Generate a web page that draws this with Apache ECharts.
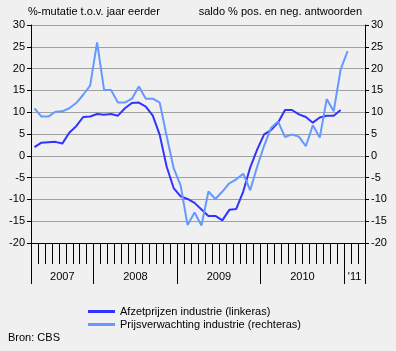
<!DOCTYPE html>
<html>
<head>
<meta charset="utf-8">
<script src="https://cdn.jsdelivr.net/npm/echarts@6/dist/echarts.min.js"></script>
<style>
  html, body { margin: 0; padding: 0; background: #f0f0f0; }
  #chart { width: 396px; height: 351px; }
</style>
</head>
<body>
<div id="chart"></div>
<script>
// maanden apr 2007 - mrt 2011
const months = [
  '2007-04', '2007-05', '2007-06', '2007-07', '2007-08', '2007-09', '2007-10', '2007-11', '2007-12',
  '2008-01', '2008-02', '2008-03', '2008-04', '2008-05', '2008-06', '2008-07', '2008-08', '2008-09', '2008-10', '2008-11', '2008-12',
  '2009-01', '2009-02', '2009-03', '2009-04', '2009-05', '2009-06', '2009-07', '2009-08', '2009-09', '2009-10', '2009-11', '2009-12',
  '2010-01', '2010-02', '2010-03', '2010-04', '2010-05', '2010-06', '2010-07', '2010-08', '2010-09', '2010-10', '2010-11', '2010-12',
  '2011-01', '2011-02', '2011-03'
]

// Afzetprijzen industrie (linkeras)
const afzetprijzen = [
  2.0, 3.0, 3.1, 3.2, 2.8, 5.3, 6.8, 8.9, 9.0,
  9.6, 9.4, 9.6, 9.2, 10.9, 12.1, 12.2, 11.3, 9.2, 4.8, -2.5, -7.4,
  -9.3, -9.9, -10.8, -12.3, -13.8, -13.8, -14.8, -12.4, -12.2, -8.2, -2.7, 1.4,
  4.9, 5.9, 7.6, 10.5, 10.5, 9.5, 8.9, 7.6, 8.8, 9.2, 9.2, 10.5
]

// Prijsverwachting industrie (rechteras)
const prijsverwachting = [
  10.9, 9.0, 9.0, 10.1, 10.2, 10.9, 12.1, 14.0, 16.1,
  26.0, 15.1, 15.1, 12.2, 12.2, 13.1, 15.9, 13.1, 13.1, 12.2, 4.5, -2.8,
  -6.8, -15.9, -13.0, -16.0, -8.2, -9.9, -8.2, -6.3, -5.4, -4.1, -7.9, -2.5,
  2.3, 6.4, 7.9, 4.3, 4.9, 4.4, 2.2, 7.0, 4.2, 13.0, 10.2, 19.8, 24.0
]

// jaarindeling van de x-as (in maanden vanaf apr 2007)
const yearBounds = [0, 9, 21, 33, 45, 48]
const yearLabelPos = [4.5, 15, 27, 39, 46.5]
const yearLabels = ['2007', '2008', '2009', '2010', "'11"]

const font = 'Liberation Sans, Arial, sans-serif'
const chart = echarts.init(document.getElementById('chart'))

const yAxisBase = {
  type: 'value',
  min: -20,
  max: 30,
  interval: 5,
  axisLine: { show: true, onZero: false, lineStyle: { color: '#000', width: 1 } },
  axisTick: { show: true, length: 4, lineStyle: { color: '#000' } },
  axisLabel: { color: '#000', fontSize: 11, fontFamily: font, margin: 6 }
}

chart.setOption({
  animation: false,
  backgroundColor: '#f0f0f0',
  title: [
    {
      text: '%-mutatie t.o.v. jaar eerder',
      left: 28, top: 6, padding: 0,
      textStyle: { color: '#000', fontSize: 11, fontWeight: 'normal', fontFamily: font }
    },
    {
      text: 'saldo % pos. en neg. antwoorden',
      right: 34, top: 6, padding: 0,
      textStyle: { color: '#000', fontSize: 11, fontWeight: 'normal', fontFamily: font }
    },
    {
      text: 'Bron: CBS',
      left: 8, top: 332, padding: 0,
      textStyle: { color: '#000', fontSize: 11, fontWeight: 'normal', fontFamily: font }
    }
  ],
  legend: {
    orient: 'vertical',
    left: 88,
    top: 306,
    padding: 0,
    itemGap: 2,
    itemWidth: 27,
    itemHeight: 3,
    icon: 'rect',
    textStyle: { color: '#000', fontSize: 11, fontFamily: font },
    data: ['Afzetprijzen industrie (linkeras)', 'Prijsverwachting industrie (rechteras)']
  },
  grid: { left: 31, right: 31, top: 25, bottom: 108, containLabel: false },
  xAxis: [
    {
      type: 'category',
      data: months,
      boundaryGap: true,
      axisLine: { show: true, onZero: false, lineStyle: { color: '#000', width: 1 } },
      axisTick: { show: true, interval: 0, length: 21, lineStyle: { color: '#000' } },
      axisLabel: { show: false },
      splitLine: { show: false }
    },
    {
      type: 'value',
      min: 0,
      max: 48,
      position: 'bottom',
      axisLine: { show: false, onZero: false },
      axisTick: { show: true, length: 41, customValues: yearBounds, lineStyle: { color: '#000' } },
      axisLabel: {
        customValues: yearLabelPos,
        color: '#000', fontSize: 11, fontFamily: font, margin: 28,
        formatter: (v) => yearLabels[yearLabelPos.indexOf(v)]
      },
      splitLine: { show: false }
    }
  ],
  yAxis: [
    Object.assign({}, yAxisBase, {
      position: 'left',
      splitLine: { show: true, lineStyle: { color: '#a0a0a0', width: 1 } }
    }),
    Object.assign({}, yAxisBase, {
      position: 'right',
      splitLine: { show: false }
    })
  ],
  series: [
    {
      name: 'Afzetprijzen industrie (linkeras)',
      type: 'line',
      xAxisIndex: 0,
      yAxisIndex: 0,
      data: afzetprijzen,
      symbol: 'none',
      itemStyle: { color: '#3333ff' },
      lineStyle: { color: '#3333ff', width: 2 }
    },
    {
      name: 'Prijsverwachting industrie (rechteras)',
      type: 'line',
      xAxisIndex: 0,
      yAxisIndex: 1,
      data: prijsverwachting,
      symbol: 'none',
      itemStyle: { color: '#6699ff' },
      lineStyle: { color: '#6699ff', width: 2 }
    }
  ]
})
</script>
</body>
</html>
